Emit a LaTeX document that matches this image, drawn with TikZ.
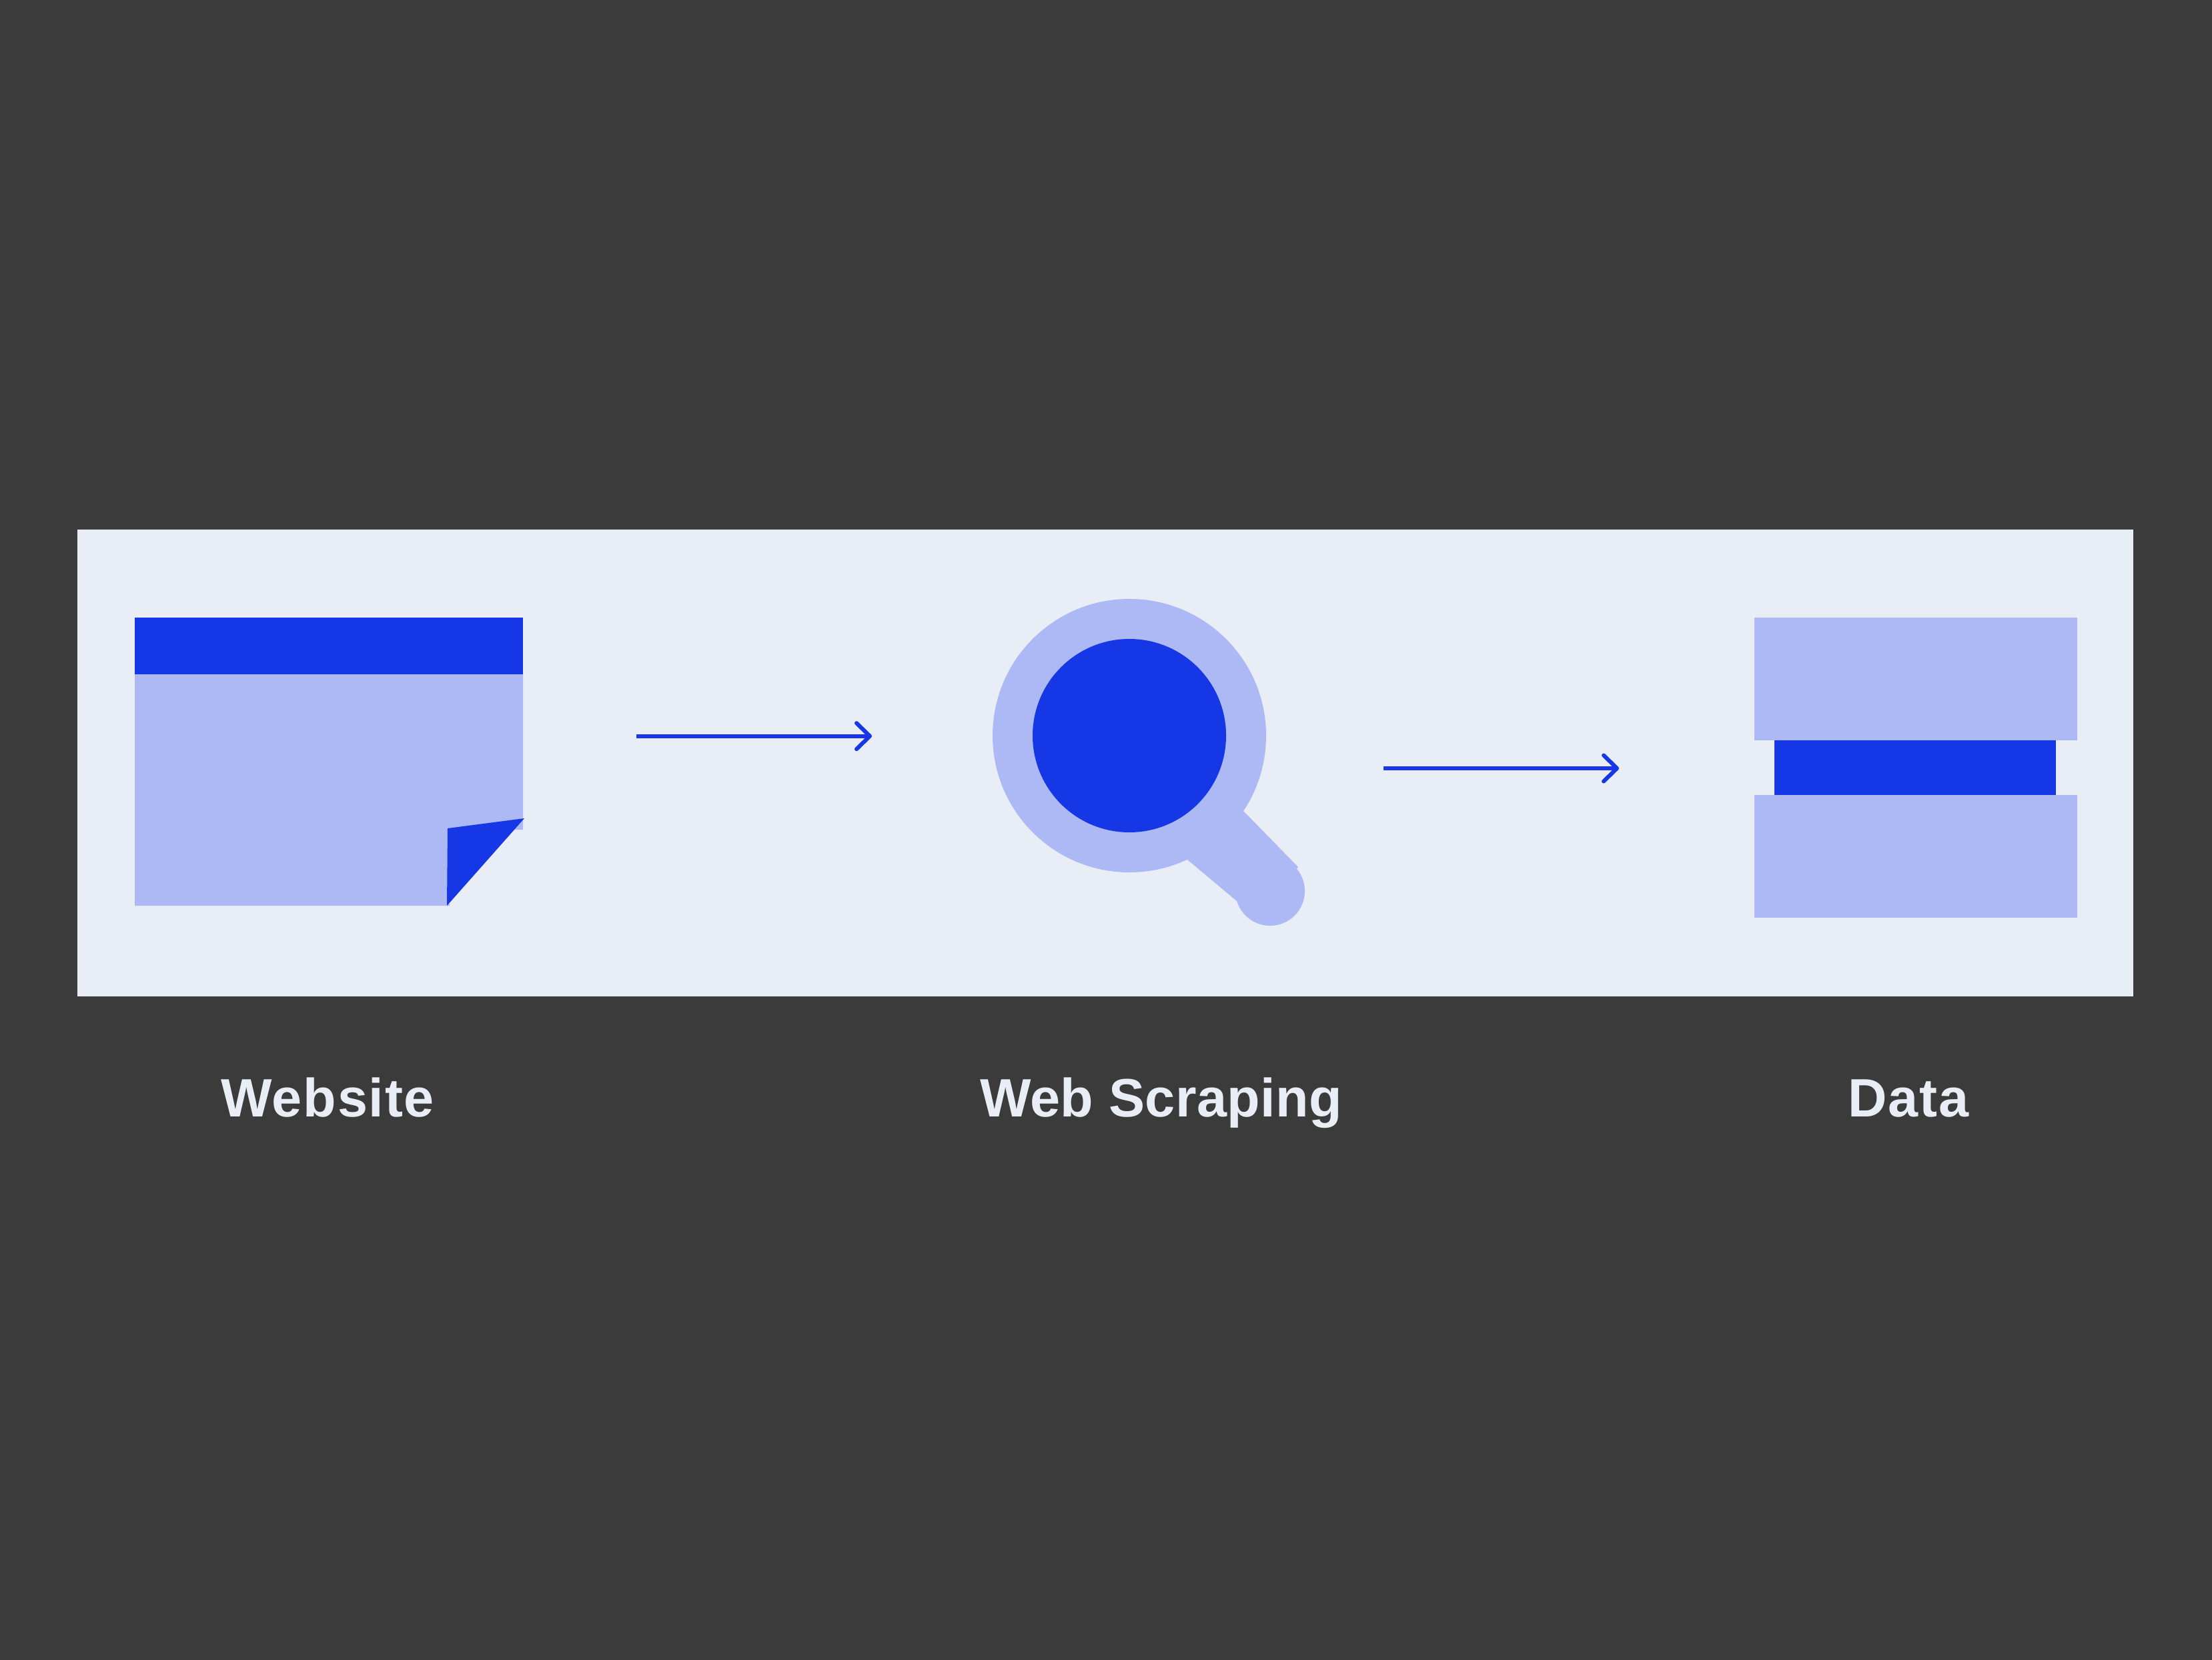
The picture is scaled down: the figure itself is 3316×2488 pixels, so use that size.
\documentclass[tikz,border=0pt]{standalone}
\usepackage{fontspec}
\setmainfont{Liberation Sans}
\usetikzlibrary{arrows.meta}
\definecolor{bgdark}{HTML}{3B3B3B}
\definecolor{panel}{HTML}{E9EDF6}
\definecolor{lite}{HTML}{ADB9F5}
\definecolor{deep}{HTML}{1637E6}
\tikzset{
  px/.style={x=1bp,y=-1bp},
  litefill/.style={fill=lite,draw=none},
  deepfill/.style={fill=deep,draw=none},
  flow/.style={draw=deep,line width=6bp,-{Straight Barb[length=20bp,width=39bp,line width=6bp,round]}},
  caption/.style={text=panel,font=\fontsize{81bp}{97bp}\selectfont\bfseries,inner sep=0pt,anchor=base west}
}
\begin{document}
\begin{tikzpicture}[px]
\useasboundingbox (0,0) rectangle (3316,2488);
\fill[bgdark] (-10,-10) rectangle (3326,2498);
\fill[panel] (116,794) rectangle (3198,1494);
% Website
\path[litefill] (202,1011) -- (784,1011) -- (784,1244) -- (771,1244) -- (672,1355) -- (674,1355) -- (674,1358) -- (202,1358) -- cycle;
\path[deepfill] (202,926) rectangle (784,1011);
\path[deepfill] (671,1242) -- (786,1227) -- (670,1358) -- cycle;
% Magnifier
\path[litefill] (1864,1216) -- (1946,1300) -- (1944,1302) -- (1854,1351) -- (1780,1289) -- cycle;
\path[litefill] (1904,1336) circle[radius=52];
\path[litefill] (1693,1103) circle[radius=205];
\path[deepfill] (1693,1103) circle[radius=145];
% Data
\path[litefill] (2630,926) rectangle (3114,1110);
\path[deepfill] (2660,1110) rectangle (3082,1192);
\path[litefill] (2630,1192) rectangle (3114,1376);
% Arrows
\coordinate (a1s) at (954,1103.7);
\coordinate (a1e) at (1307,1103.7);
\coordinate (a2s) at (2074,1152);
\coordinate (a2e) at (2427,1152);
\draw[flow] (a1s) -- (a1e);
\draw[flow] (a2s) -- (a2e);
% Labels
\node[caption] (website) at (331,1674) {\addfontfeature{LetterSpace=2.2}Website};
\node[caption] (scraping) at (1469,1674) {\addfontfeature{LetterSpace=0.5}Web Scraping};
\node[caption] (data) at (2770,1674) {\addfontfeature{LetterSpace=2.2}Data};
\end{tikzpicture}
\end{document}
